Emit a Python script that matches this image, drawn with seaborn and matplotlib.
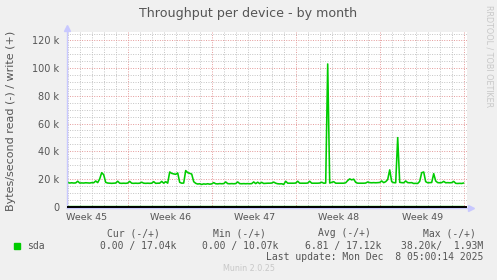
import numpy as np
import pandas as pd
import matplotlib
matplotlib.use("Agg")
import matplotlib.pyplot as plt
import seaborn as sns

# ---------------- data (bytes/second, k = 1000) ----------------
write_k = [
    17.5, 17.0, 17.2, 17.0, 17.1, 18.3, 17.0, 17.1, 17.0, 17.2,
    17.1, 17.0, 17.3, 17.2, 18.5, 17.3, 20.0, 24.5, 23.0, 17.5,
    17.0, 16.9, 16.8, 16.9, 17.0, 18.3, 16.9, 16.8, 16.9, 16.8,
    17.0, 18.2, 16.9, 16.8, 16.9, 16.8, 16.9, 17.6, 16.9, 16.8,
    16.9, 16.8, 16.9, 18.0, 16.8, 16.9, 16.9, 18.2, 16.9, 18.0,
    16.9, 25.0, 24.0, 23.6, 23.3, 24.3, 17.5, 16.9, 17.0, 26.0,
    24.5, 24.0, 23.5, 18.0, 16.8, 16.3, 16.5, 16.0, 16.4, 16.2,
    16.5, 16.2, 16.4, 17.3, 16.5, 16.4, 16.6, 16.5, 16.6, 17.8,
    16.6, 16.5, 16.6, 16.5, 16.6, 17.8, 16.6, 16.5, 16.6, 16.5,
    16.6, 16.5, 16.6, 17.8, 16.6, 17.6, 16.6, 17.5, 16.7, 16.8,
    16.9, 16.9, 17.0, 17.7, 16.9, 16.5, 16.4, 16.5, 16.0, 18.3,
    16.9, 16.9, 16.9, 16.9, 17.0, 18.3, 16.9, 16.9, 16.9, 16.9,
    17.0, 18.3, 16.9, 16.9, 16.9, 16.9, 17.0, 17.6, 16.9, 17.0,
    103.0, 17.0, 17.5, 18.0, 16.9, 16.9, 16.9, 16.9, 16.9, 17.2,
    18.8, 20.0, 19.3, 19.8, 17.5, 16.9, 16.9, 16.9, 16.9, 17.0,
    17.8, 17.3, 17.2, 17.3, 17.2, 17.3, 17.4, 18.5, 17.3, 18.0,
    19.5, 26.5, 18.0, 17.3, 17.2, 49.8, 17.5, 17.3, 17.2, 18.5,
    17.3, 17.2, 17.3, 16.7, 16.8, 16.7, 18.2, 24.5, 25.0, 18.0,
    17.2, 17.3, 17.4, 23.8, 18.5, 17.3, 17.2, 17.3, 18.2, 17.2,
    17.3, 17.2, 17.3, 18.2, 16.8, 16.7, 16.8, 16.7, 17.04,
]
read_peak_index = 130
read_peak_value = -38.2          # bytes/second, drawn as negative

week_labels = ["Week 45", "Week 46", "Week 47", "Week 48", "Week 49"]
y_ticks_k = [0, 20, 40, 60, 80, 100, 120]
y_tick_labels = ["0", "20 k", "40 k", "60 k", "80 k", "100 k", "120 k"]

title = "Throughput per device - by month"
y_label = "Bytes/second read (-) / write (+)"
series_name = "sda"
legend_headers = ["Cur (-/+)", "Min (-/+)", "Avg (-/+)", "Max (-/+)"]
legend_values = ["0.00 / 17.04k", "0.00 / 10.07k", "6.81 / 17.12k", "38.20k/  1.93M"]
last_update = "Last update: Mon Dec  8 05:00:14 2025"
footer = "Munin 2.0.25"
side_text = "RRDTOOL / TOBI OETIKER"

# ---------------- figure ----------------
W, H = 497, 280
sns.set_style("white")
plt.rcParams["font.family"] = ["DejaVu Sans"]
fig = plt.figure(figsize=(W / 100, H / 100), dpi=100)
fig.patch.set_facecolor("#f0f0f0")

def fx(px):
    return px / W

def fy(py):
    return 1 - py / H

ax = fig.add_axes([fx(66.7), 72.3 / H, 400 / W, 176 / H])
ax.set_facecolor("white")

n = len(write_k)
step_days = 4 / 24
days = (np.arange(n) + 0.5) * step_days
write = np.array(write_k) * 1000
read = np.zeros(n)
read[read_peak_index] = read_peak_value
df = pd.DataFrame({"day": days, "write": write, "read": read})

x_end = 800 / 24  # 400 px * 2 h
ax.set_xlim(0, x_end)
ax.set_ylim(-800, 126300)

# grids
day_lines = 0.125 + np.arange(0, 34)
week_starts = 5.125 + 7 * np.arange(0, 5)
ax.set_xticks(week_starts)
ax.set_xticks(day_lines[day_lines < x_end], minor=True)
ax.set_yticks([v * 1000 for v in y_ticks_k])
ax.set_yticks(np.arange(0, 126000, 5000), minor=True)
ax.set_xticklabels([])
ax.set_yticklabels(y_tick_labels)
ax.grid(which="minor", color="#c4c4c4", linestyle=(0, (1, 1.5)), linewidth=0.7)
ax.grid(which="major", color="#e49a9a", linestyle=(0, (1, 1.5)), linewidth=0.7)
ax.set_axisbelow(True)

ax.tick_params(axis="y", which="both", direction="out", length=2.5, width=0.6,
               color="#aaaaaa", labelsize=7, labelcolor="#555555", pad=3)
ax.tick_params(axis="x", which="both", direction="out", length=2.5, width=0.6,
               color="#aaaaaa")

sns.lineplot(data=df, x="day", y="read", ax=ax, color="#00cc00", linewidth=1.15)
sns.lineplot(data=df, x="day", y="write", ax=ax, color="#00cc00", linewidth=1.15)
ax.axhline(0, color="black", linewidth=1.4, zorder=3)
ax.set_xlabel("")
ax.set_ylabel("")

for s in ["top", "right"]:
    ax.spines[s].set_visible(False)
ax.spines["left"].set_color("#c8c8ff")
ax.spines["bottom"].set_color("#c8c8ff")
ax.spines["left"].set_linewidth(1.0)
ax.spines["bottom"].set_linewidth(1.0)
ax.plot([0], [1.02], marker="^", markersize=4, color="#c8c8ff",
        transform=ax.transAxes, clip_on=False)
ax.plot([1.01], [0], marker=">", markersize=4, color="#c8c8ff",
        transform=ax.transAxes, clip_on=False)

# week labels centred mid-week
for i, lab in enumerate(week_labels):
    ax.text(week_starts[i] - 3.5, -0.055, lab, transform=ax.get_xaxis_transform(),
            ha="center", va="center", fontsize=6.8, color="#555555")

# texts
fig.text(fx(248.3), fy(14), title, ha="center", va="center", fontsize=9.1, color="#555555")
fig.text(fx(11), fy(120.5), y_label, rotation=90, ha="center", va="center",
         fontsize=8.0, color="#555555")
fig.text(fx(488.5), fy(56.5), side_text, rotation=270, ha="center", va="center",
         fontsize=5.8, color="#c8c8c8")

mono = "DejaVu Sans Mono"
header_x = [107, 213, 318, 423]
value_x = [100, 201.7, 305, 400.7]
for hx, h in zip(header_x, legend_headers):
    fig.text(fx(hx), fy(233.3), h, ha="left", va="center", fontsize=7,
             family=mono, color="#555555")
for vx, v in zip(value_x, legend_values):
    fig.text(fx(vx), fy(246), v, ha="left", va="center", fontsize=7,
             family=mono, color="#555555")
fig.patches.append(plt.Rectangle((fx(14), fy(248.5)), 5.5 / W, 5.5 / H,
                                 transform=fig.transFigure, color="#00cc00"))
fig.text(fx(26.7), fy(246), series_name, ha="left", va="center", fontsize=7,
         family=mono, color="#555555")
fig.text(fx(483.3), fy(257.3), last_update, ha="right", va="center", fontsize=7,
         family=mono, color="#555555")
fig.text(fx(249), fy(268.3), footer, ha="center", va="center", fontsize=5.8,
         color="#c8c8c8")

fig.savefig("out.png", dpi=100, facecolor=fig.get_facecolor())
